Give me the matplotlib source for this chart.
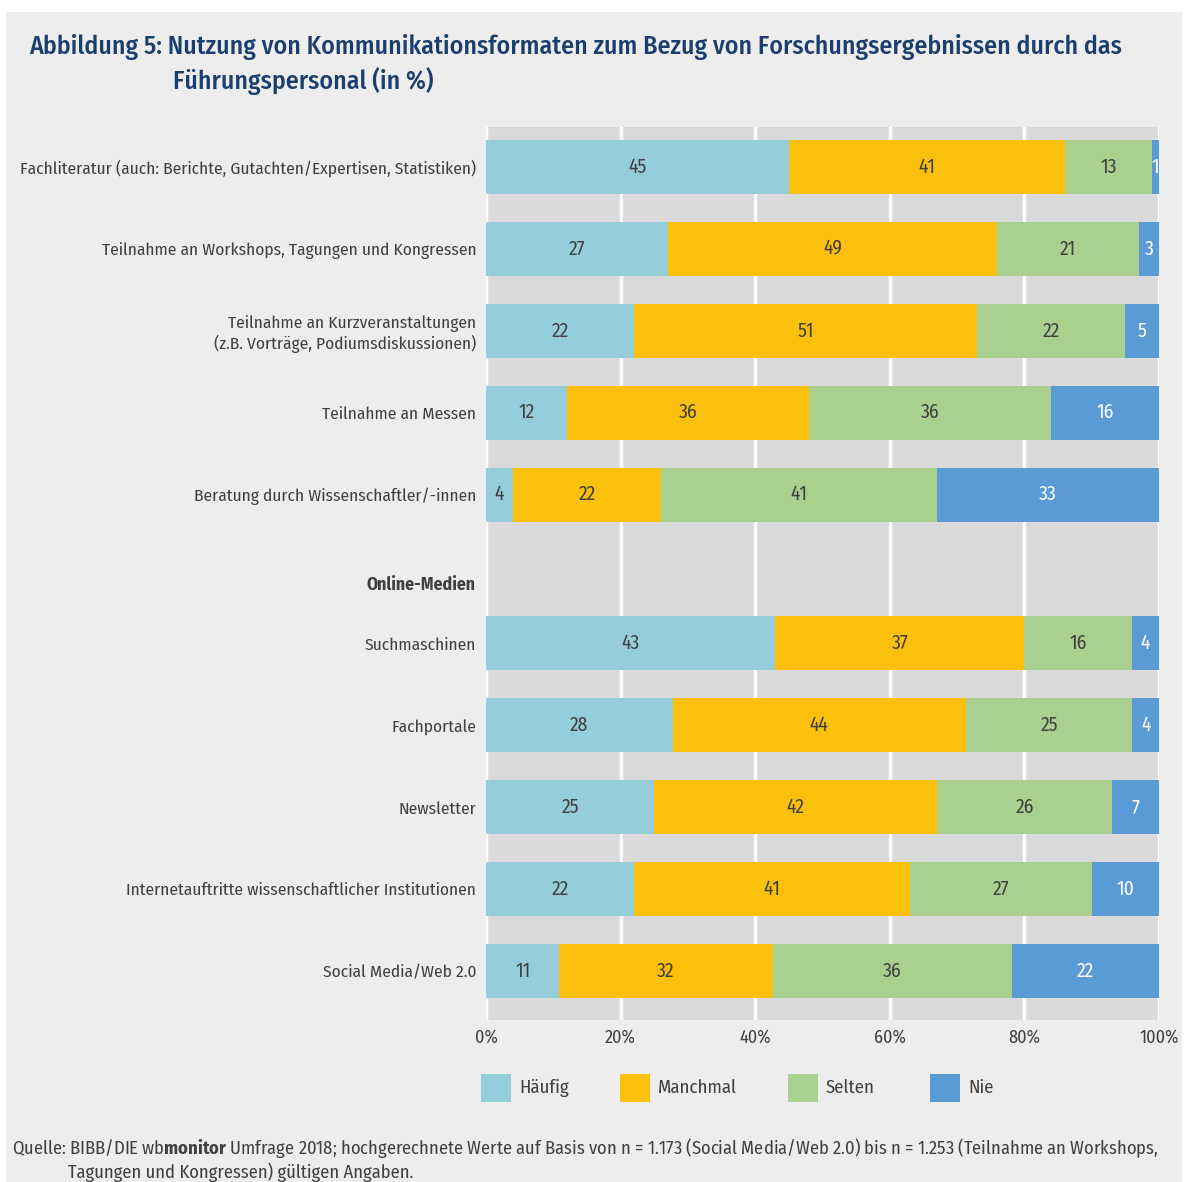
import matplotlib.pyplot as plt
from matplotlib.patches import Rectangle
import numpy as np

plt.rcParams['font.family'] = ['Fira Sans Condensed', 'Liberation Sans Narrow', 'DejaVu Sans']
plt.rcParams['mathtext.fontset'] = 'custom'
plt.rcParams['mathtext.rm'] = 'Fira Sans Condensed'
plt.rcParams['mathtext.bf'] = 'Fira Sans Condensed:bold'

# categories (top to bottom)
categories = [
    'Fachliteratur (auch: Berichte, Gutachten/Expertisen, Statistiken)',
    'Teilnahme an Workshops, Tagungen und Kongressen',
    'Teilnahme an Kurzveranstaltungen\n(z.B. Vorträge, Podiumsdiskussionen)',
    'Teilnahme an Messen',
    'Beratung durch Wissenschaftler/-innen',
    'Suchmaschinen',
    'Fachportale',
    'Newsletter',
    'Internetauftritte wissenschaftlicher Institutionen',
    'Social Media/Web 2.0',
]
group_header = 'Online-Medien'

haeufig = [45, 27, 22, 12, 4, 43, 28, 25, 22, 11]
manchmal = [41, 49, 51, 36, 22, 37, 44, 42, 41, 32]
selten = [13, 21, 22, 36, 41, 16, 25, 26, 27, 36]
nie = [1, 3, 5, 16, 33, 4, 4, 7, 10, 22]

series_names = ['Häufig', 'Manchmal', 'Selten', 'Nie']
colors = ['#96cddb', '#fbc00c', '#a9d08e', '#5b9bd5']
text_colors = ['#404040', '#404040', '#404040', 'white']

data = np.array([haeufig, manchmal, selten, nie], dtype=float)
totals = data.sum(axis=0)
shares = data / totals * 100

# row positions: gap for the "Online-Medien" header
ypos = np.array([0, 1, 2, 3, 4, 5.82, 6.82, 7.82, 8.82, 9.82])
header_y = 5.1

fig = plt.figure(figsize=(11.88, 11.82), dpi=100)
fig.patch.set_facecolor('white')
fig.patches.append(Rectangle((6 / 1188, 0), 1176 / 1188, 1 - 12 / 1182,
                             transform=fig.transFigure, facecolor='#ededed',
                             edgecolor='none', zorder=-10))

ax = fig.add_axes([486 / 1188, 1 - 1020 / 1182, 673 / 1188, 893 / 1182])
ax.set_facecolor('#dadada')

left = np.zeros(len(categories))
for i in range(4):
    ax.barh(ypos, shares[i], left=left, height=0.66, color=colors[i],
            edgecolor='none', zorder=3)
    for y, l, w, v in zip(ypos, left, shares[i], data[i]):
        ax.text(l + w / 2, y, '%d' % v, ha='center', va='center',
                fontsize=14, color=text_colors[i], zorder=4, clip_on=True)
    left += shares[i]

ax.set_xlim(0, 100)
ax.set_ylim(10.42, -0.49)
ax.set_xticks([0, 20, 40, 60, 80, 100])
ax.set_xticklabels(['0%', '20%', '40%', '60%', '80%', '100%'])
ax.set_yticks(ypos)
ax.set_yticklabels(categories)
ax.tick_params(axis='both', length=0, labelsize=12.5, colors='#404040')
ax.tick_params(axis='x', labelsize=13)
ax.tick_params(axis='y', pad=7)
ax.tick_params(axis='x', pad=6)
for lab in ax.get_yticklabels():
    lab.set_multialignment('right')
ax.grid(axis='x', color='white', linewidth=2.5, zorder=1)
ax.set_axisbelow(True)
for s in ax.spines.values():
    s.set_visible(False)

ax.text(-0.0149, header_y, group_header, transform=ax.get_yaxis_transform(),
        ha='right', va='center', fontsize=12.8, fontweight='bold', color='#404040')

# legend, drawn by hand to match the spacing of the original
leg_x = [481, 620, 788, 930]
for x0, c, name in zip(leg_x, colors, series_names):
    fig.patches.append(Rectangle((x0 / 1188, 1 - 1102 / 1182), 30 / 1188, 28 / 1182,
                                 transform=fig.transFigure, facecolor=c,
                                 edgecolor='none'))
    fig.text((x0 + 38) / 1188, 1 - 1088 / 1182, name, ha='left', va='center',
             fontsize=13.5, color='#404040')

fig.text(29 / 1188, 1 - 47 / 1182,
         'Abbildung 5: Nutzung von Kommunikationsformaten zum Bezug von Forschungsergebnissen durch das',
         ha='left', va='center', fontsize=18.6, color='#1a3e6e', fontweight='medium')
fig.text(173 / 1188, 1 - 81 / 1182, 'Führungspersonal (in %)',
         ha='left', va='center', fontsize=18.6, color='#1a3e6e', fontweight='medium')

fig.text(12 / 1188, 1 - 1148 / 1182,
         'Quelle: BIBB/DIE wb$\\mathbf{monitor}$ Umfrage 2018; hochgerechnete Werte auf Basis von n = 1.173 '
         '(Social Media/Web 2.0) bis n = 1.253 (Teilnahme an Workshops,',
         ha='left', va='center', fontsize=13.3, color='#404040')
fig.text(68 / 1188, 1 - 1172 / 1182, 'Tagungen und Kongressen) gültigen Angaben.',
         ha='left', va='center', fontsize=13.3, color='#404040')

fig.savefig('out.png', dpi=100, facecolor=fig.get_facecolor())
